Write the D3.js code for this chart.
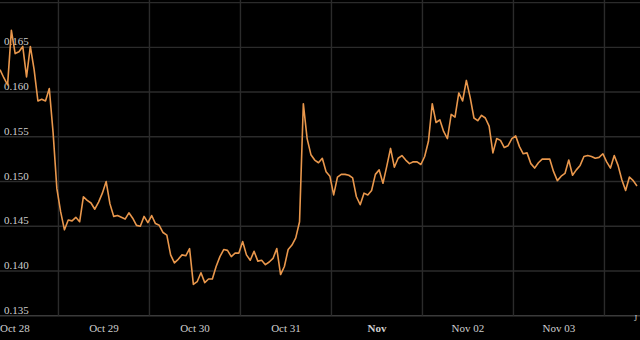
<!DOCTYPE html>
<html>
<head>
<meta charset="utf-8">
<script src="https://cdn.jsdelivr.net/npm/d3@7"></script>
<style>
  html, body { margin: 0; padding: 0; background: #000; }
</style>
</head>
<body>
<div id="chart"></div>
<script>
// hourly closes, starting Oct 27 ~20:35 UTC
const startTime = new Date(Date.UTC(2023, 9, 27, 20, 35));
const prices = [
  0.1625, 0.1616, 0.1608, 0.1669, 0.1643, 0.1645, 0.1651, 0.1617, 0.1651, 0.1625,
  0.1590, 0.1592, 0.1590, 0.1604, 0.1555, 0.1492, 0.1466, 0.1446, 0.1457, 0.1456,
  0.1460, 0.1455, 0.1483, 0.1479, 0.1476, 0.1469, 0.1477, 0.1487, 0.1500, 0.1475,
  0.1461, 0.1462, 0.1460, 0.1458, 0.1465, 0.1459, 0.1451, 0.1450, 0.1461, 0.1454,
  0.1462, 0.1453, 0.1451, 0.1443, 0.1440, 0.1418, 0.1409, 0.1413, 0.1418, 0.1417,
  0.1425, 0.1385, 0.1388, 0.1398, 0.1387, 0.1391, 0.1391, 0.1405, 0.1416, 0.1424,
  0.1423, 0.1416, 0.1420, 0.1420, 0.1433, 0.1418, 0.1412, 0.1422, 0.1411, 0.1412,
  0.1407, 0.1410, 0.1414, 0.1425, 0.1396, 0.1405, 0.1424, 0.1429, 0.1437, 0.1455,
  0.1587, 0.1548, 0.1530, 0.1524, 0.1521, 0.1526, 0.1511, 0.1506, 0.1485, 0.1505,
  0.1508, 0.1508, 0.1507, 0.1504, 0.1483, 0.1474, 0.1487, 0.1485, 0.1490, 0.1508,
  0.1513, 0.1498, 0.1517, 0.1537, 0.1516, 0.1526, 0.1529, 0.1524, 0.1520, 0.1522,
  0.1522, 0.1519, 0.1528, 0.1545, 0.1587, 0.1566, 0.1569, 0.1556, 0.1548, 0.1575,
  0.1572, 0.1599, 0.1590, 0.1613, 0.1594, 0.1571, 0.1568, 0.1574, 0.1571, 0.1562,
  0.1532, 0.1548, 0.1546, 0.1538, 0.1540, 0.1548, 0.1551, 0.1539, 0.1531, 0.1532,
  0.1520, 0.1515, 0.1521, 0.1525, 0.1525, 0.1525, 0.1511, 0.1501, 0.1506, 0.1509,
  0.1524, 0.1507, 0.1513, 0.1518, 0.1528, 0.1529, 0.1528, 0.1526, 0.1527, 0.1531,
  0.1522, 0.1515, 0.1529, 0.1518, 0.1502, 0.1490, 0.1505, 0.1501, 0.1495
];
const yTicks = [0.135, 0.140, 0.145, 0.150, 0.155, 0.160, 0.165, 0.170];

const width = 640;
const height = 340;

const data = prices.map((p, i) => ({ t: d3.utcHour.offset(startTime, i), v: p }));

const svg = d3.select("#chart")
  .append("svg")
  .attr("width", width)
  .attr("height", height)
  .style("font-family", "'Liberation Serif', serif")
  .style("font-size", "11px");

svg.append("rect").attr("width", width).attr("height", height).attr("fill", "#000");

const x = d3.scaleUtc()
  .domain(d3.extent(data, d => d.t))
  .range([0, 637]);

const y = d3.scaleLinear()
  .domain([0.135, 0.170])
  .range([315.7, 2.6]);

// horizontal grid
svg.append("g")
  .selectAll("line")
  .data(yTicks)
  .enter().append("line")
  .attr("x1", 0).attr("x2", width)
  .attr("y1", d => y(d)).attr("y2", d => y(d))
  .attr("stroke", d => d === 0.135 ? "#3a3a3a" : "#2b2b2b")
  .attr("stroke-width", 1.4);

// vertical grid at midday
const noons = d3.utcHour.every(12).range(new Date(Date.UTC(2023, 9, 27)), new Date(Date.UTC(2023, 10, 5)))
  .filter(d => d.getUTCHours() === 12 && x(d) > 0 && x(d) < width);
svg.append("g")
  .selectAll("line")
  .data(noons)
  .enter().append("line")
  .attr("x1", d => x(d)).attr("x2", d => x(d))
  .attr("y1", 0).attr("y2", y(0.135))
  .attr("stroke", "#2b2b2b")
  .attr("stroke-width", 1.4);

// y labels sit inside the plot, just above each grid line
svg.append("g")
  .selectAll("text")
  .data(yTicks.filter(d => d < 0.17))
  .enter().append("text")
  .attr("x", 4)
  .attr("y", d => y(d) - 2)
  .attr("fill", "#cfcfcf")
  .text(d3.format(".3f"));

// day labels at midnight; the first one is pushed in from the edge
const days = d3.utcDay.range(new Date(Date.UTC(2023, 9, 28)), new Date(Date.UTC(2023, 10, 4)));
svg.append("g")
  .selectAll("text")
  .data(days)
  .enter().append("text")
  .attr("x", (d, i) => i === 0 ? 0 : x(d))
  .attr("y", 332)
  .attr("text-anchor", (d, i) => i === 0 ? "start" : "middle")
  .attr("fill", "#cfcfcf")
  .style("font-weight", d => d.getUTCDate() === 1 ? "bold" : "normal")
  .text(d => d.getUTCDate() === 1 ? d3.utcFormat("%b")(d) : d3.utcFormat("%b %d")(d));

// stray clipped label at the right edge
svg.append("text")
  .attr("x", 634)
  .attr("y", 321)
  .attr("fill", "#cfcfcf")
  .style("font-size", "8px")
  .text("J");

const line = d3.line()
  .x(d => x(d.t))
  .y(d => y(d.v));

svg.append("path")
  .datum(data)
  .attr("fill", "none")
  .attr("stroke", "#e9974c")
  .attr("stroke-width", 1.6)
  .attr("stroke-linejoin", "round")
  .attr("d", line);
</script>
</body>
</html>
